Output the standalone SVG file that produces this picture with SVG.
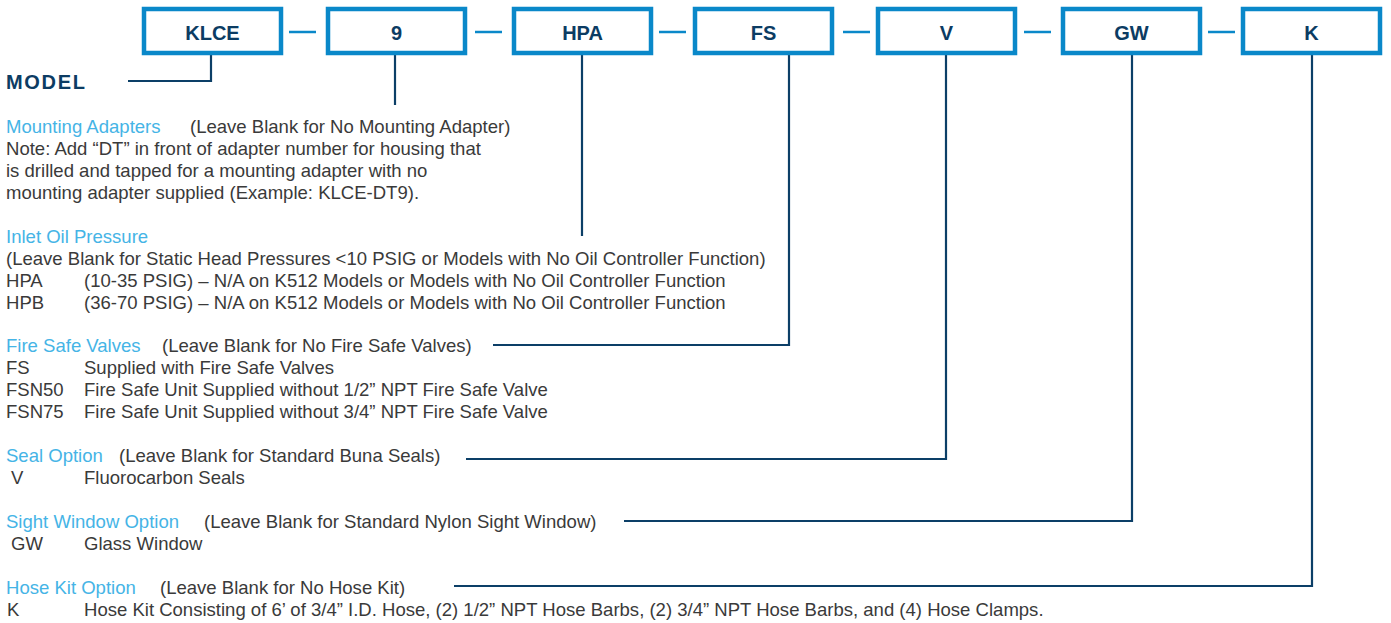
<svg xmlns="http://www.w3.org/2000/svg" width="1391" height="623" viewBox="0 0 1391 623">
<style>
.box{fill:#fff;stroke:#0a88c9;stroke-width:4.5}
.bt{font-family:"Liberation Sans",Arial,sans-serif;font-weight:bold;font-size:20px;fill:#0c3c63;text-anchor:middle}
.dash{stroke:#0a88c9;stroke-width:2.5}
.con{fill:none;stroke:#0c3f67;stroke-width:2.2}
.t{font-family:"Liberation Sans",Arial,sans-serif;font-size:18.55px;fill:#3a3a3a}
.lb{fill:#45b4e6}
.model{font-family:"Liberation Sans",Arial,sans-serif;font-weight:bold;font-size:20px;fill:#0c3c63}
</style>
<rect width="1391" height="623" fill="#fff"/>
<g id="dashes">
<line class="dash" x1="289" y1="32" x2="316" y2="32"/>
<line class="dash" x1="475" y1="32" x2="502" y2="32"/>
<line class="dash" x1="659" y1="32" x2="686" y2="32"/>
<line class="dash" x1="843" y1="32" x2="870" y2="32"/>
<line class="dash" x1="1024" y1="32" x2="1051" y2="32"/>
<line class="dash" x1="1208" y1="32" x2="1235" y2="32"/>
</g>
<g id="connectors">
<path class="con" d="M211 55 V81 H128"/>
<path class="con" d="M395 55 V105"/>
<path class="con" d="M582 55 V236"/>
<path class="con" d="M789 55 V345 H493"/>
<path class="con" d="M946 55 V459 H466"/>
<path class="con" d="M1132 55 V521 H624"/>
<path class="con" d="M1312 55 V586 H454"/>
</g>
<g id="node-klce"><rect class="box" x="144" y="9" width="137" height="44"/><text class="bt" x="212.5" y="40">KLCE</text></g>
<g id="node-9"><rect class="box" x="328" y="9" width="137" height="44"/><text class="bt" x="396.5" y="40">9</text></g>
<g id="node-hpa"><rect class="box" x="514" y="9" width="137" height="44"/><text class="bt" x="582.5" y="40">HPA</text></g>
<g id="node-fs"><rect class="box" x="695" y="9" width="137" height="44"/><text class="bt" x="763.5" y="40">FS</text></g>
<g id="node-v"><rect class="box" x="878" y="9" width="137" height="44"/><text class="bt" x="946.5" y="40">V</text></g>
<g id="node-gw"><rect class="box" x="1063" y="9" width="137" height="44"/><text class="bt" x="1131.5" y="40">GW</text></g>
<g id="node-k"><rect class="box" x="1243" y="9" width="137" height="44"/><text class="bt" x="1311.5" y="40">K</text></g>
<g id="model"><text class="model" x="6" y="89" textLength="79">MODEL</text></g>
<g id="mounting">
<text class="t lb" x="6" y="133">Mounting Adapters</text>
<text class="t" x="190" y="133">(Leave Blank for No Mounting Adapter)</text>
<text class="t" x="6" y="155">Note: Add “DT” in front of adapter number for housing that</text>
<text class="t" x="6" y="177">is drilled and tapped for a mounting adapter with no</text>
<text class="t" x="6" y="199">mounting adapter supplied (Example: KLCE-DT9).</text>
</g>
<g id="inlet">
<text class="t lb" x="6" y="243">Inlet Oil Pressure</text>
<text class="t" x="6" y="265">(Leave Blank for Static Head Pressures &lt;10 PSIG or Models with No Oil Controller Function)</text>
<text class="t" x="6" y="287">HPA</text><text class="t" x="84" y="287">(10-35 PSIG) – N/A on K512 Models or Models with No Oil Controller Function</text>
<text class="t" x="6" y="309">HPB</text><text class="t" x="84" y="309">(36-70 PSIG) – N/A on K512 Models or Models with No Oil Controller Function</text>
</g>
<g id="firesafe">
<text class="t lb" x="6" y="352">Fire Safe Valves</text>
<text class="t" x="162" y="352">(Leave Blank for No Fire Safe Valves)</text>
<text class="t" x="6" y="374">FS</text><text class="t" x="84" y="374">Supplied with Fire Safe Valves</text>
<text class="t" x="6" y="396">FSN50</text><text class="t" x="84" y="396">Fire Safe Unit Supplied without 1/2” NPT Fire Safe Valve</text>
<text class="t" x="6" y="418">FSN75</text><text class="t" x="84" y="418">Fire Safe Unit Supplied without 3/4” NPT Fire Safe Valve</text>
</g>
<g id="seal">
<text class="t lb" x="6" y="462">Seal Option</text>
<text class="t" x="119" y="462">(Leave Blank for Standard Buna Seals)</text>
<text class="t" x="11" y="484">V</text><text class="t" x="84" y="484">Fluorocarbon Seals</text>
</g>
<g id="sight">
<text class="t lb" x="6" y="528">Sight Window Option</text>
<text class="t" x="204" y="528">(Leave Blank for Standard Nylon Sight Window)</text>
<text class="t" x="11" y="550">GW</text><text class="t" x="84" y="550">Glass Window</text>
</g>
<g id="hose">
<text class="t lb" x="6" y="594">Hose Kit Option</text>
<text class="t" x="160" y="594">(Leave Blank for No Hose Kit)</text>
<text class="t" x="7" y="616">K</text><text class="t" x="84" y="616">Hose Kit Consisting of 6’ of 3/4” I.D. Hose, (2) 1/2” NPT Hose Barbs, (2) 3/4” NPT Hose Barbs, and (4) Hose Clamps.</text>
</g>
</svg>
